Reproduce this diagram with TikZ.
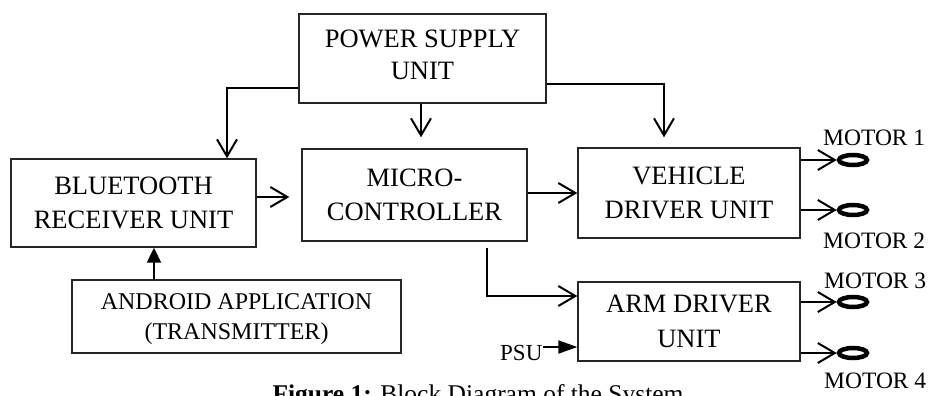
\documentclass[tikz,border=0pt]{standalone}
\usepackage{fontspec}
\setmainfont{Liberation Serif}
\usetikzlibrary{arrows.meta,shapes.geometric,calc}
\begin{document}
\begin{tikzpicture}[x=1pt,y=-1pt,
  box/.style={draw=black!85, line width=1.4pt, inner sep=0pt, align=center,
    font=\fontsize{26.5}{34.5}\selectfont},
  arr/.style={line width=2pt, -{Straight Barb[length=17pt,width=20pt]}},
  farr/.style={line width=2pt, -{Triangle[length=15pt,width=14pt]}},
  parr/.style={line width=2pt, -{Triangle[length=19pt,width=13pt]}},
  mot/.style={ellipse, draw, line width=4.5pt, minimum width=28pt, minimum height=10pt, inner sep=0pt},
  lbl/.style={anchor=base west, inner sep=0pt, font=\fontsize{23.5}{28}\selectfont}]
\useasboundingbox (0,0) rectangle (930,396);

% blocks
\node[box, minimum width=247pt, minimum height=89pt, text depth=7.4pt,
  font=\fontsize{26.5}{31.6}\selectfont] (psu) at (422.5,58.5) {POWER SUPPLY\\UNIT};
\node[box, minimum width=245pt, minimum height=88pt] (bt) at (133.5,203) {BLUETOOTH\\RECEIVER UNIT};
\node[box, minimum width=225pt, minimum height=92pt] (mc) at (414.5,195) {MICRO-\\CONTROLLER};
\node[box, minimum width=222pt, minimum height=90pt] (vd) at (689,193) {VEHICLE\\DRIVER UNIT};
\node[box, minimum width=222pt, minimum height=79pt] (ad) at (689,321.5) {ARM DRIVER\\UNIT};
\node[box, minimum width=329pt, minimum height=73pt, text depth=-9pt,
  font=\fontsize{24}{30}\selectfont] (an) at (236.5,316.5) {ANDROID APPLICATION\\(TRANSMITTER)};

% motors
\node[mot] (m1) at (853,160) {};
\node[mot] (m2) at (853,210) {};
\node[mot] (m3) at (853,302) {};
\node[mot] (m4) at (853,353) {};
\node[lbl] (l1) at (823,145) {MOTOR 1};
\node[lbl] (l2) at (823,248) {MOTOR 2};
\node[lbl] (l3) at (824,288) {MOTOR 3};
\node[lbl] (l4) at (824,388) {MOTOR 4};

% PSU label
\node[anchor=base west, inner sep=0pt, font=\fontsize{23}{28}\selectfont] (psul) at (500,360) {PSU};

% caption
\node[anchor=base, inner sep=0pt, font=\fontsize{25.5}{30}\selectfont] (cap) at (478,402)
  {\textbf{Figure 1:} Block Diagram of the System};

% helper coordinates
\coordinate (c1) at (227,88);
\coordinate (c2) at (421,0);
\coordinate (c3) at (664,84);
\coordinate (c4) at (0,197);
\coordinate (c5) at (0,193);
\coordinate (c6) at (487,296);
\coordinate (c7) at (154,0);
\coordinate (c8) at (0,347);

% connectors
\draw[arr] (c1 -| psu.west) -| (c1 |- bt.north);
\draw[arr] (c2 |- psu.south) -- ($(c2 |- mc.north)+(0,-11)$);
\draw[arr] (c3 -| psu.east) -| ($(c3 |- vd.north)+(0,-10)$);
\draw[arr] (c4 -| bt.east) -- ($(c4 -| mc.west)+(-12,0)$);
\draw[arr] (c5 -| mc.east) -- (c5 -| vd.west);
\draw[arr] ($(c6 |- mc.south)+(0,6)$) |- (c6 -| ad.west);
\draw[farr] (c7 |- an.north) -- (c7 |- bt.south);
\draw[parr] (psul.east |- c8) -- (c8 -| ad.west);
\draw[arr] (m1 -| vd.east) -- (m1.west);
\draw[arr] (m2 -| vd.east) -- (m2.west);
\draw[arr] (m3 -| ad.east) -- (m3.west);
\draw[arr] (m4 -| ad.east) -- (m4.west);
\end{tikzpicture}
\end{document}
